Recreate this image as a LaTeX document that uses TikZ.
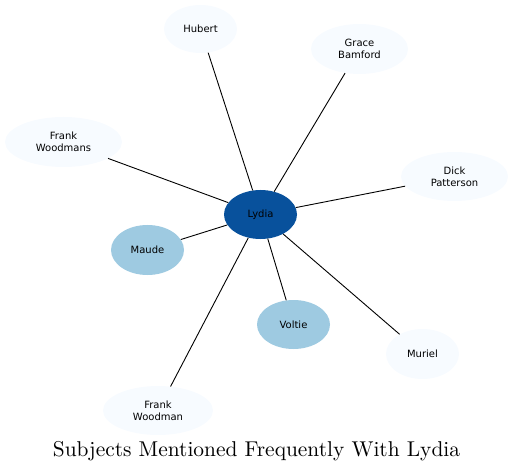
\documentclass[tikz,border=0pt]{standalone}
\usepackage{graphicx}
\usepackage{fontspec}
\setsansfont{DejaVu Sans}
\usetikzlibrary{shapes.geometric}
\definecolor{pale}{HTML}{F7FBFF}
\definecolor{mid}{HTML}{9ECAE1}
\definecolor{dark}{HTML}{08519C}
\tikzset{
  person/.style={ellipse, inner sep=0pt, align=center,
    font=\sffamily\fontsize{10bp}{12bp}\selectfont, text=black},
  minor/.style={person, fill=pale},
  near/.style={person, fill=mid},
  hub/.style={person, fill=dark},
  link/.style={draw=black, line width=0.9bp},
}
\begin{document}
\begin{tikzpicture}[x=1bp,y=-1bp]
\useasboundingbox (0,0) rectangle (513,471);
\node[hub, minimum width=73bp, minimum height=49bp] (lydia) at (260.5,214.5) {Lydia};
\node[minor, minimum width=73bp, minimum height=48bp] (hubert) at (200.5,29) {Hubert};
\node[minor, minimum width=97bp, minimum height=50bp] (grace) at (359.5,49) {Grace\\Bamford};
\node[minor, minimum width=117bp, minimum height=50bp] (fws) at (63.5,142) {Frank\\Woodmans};
\node[minor, minimum width=107bp, minimum height=49bp] (dick) at (454.5,176.5) {Dick\\Patterson};
\node[near, minimum width=73bp, minimum height=50bp] (maude) at (147.5,250) {Maude};
\node[near, minimum width=73bp, minimum height=49bp] (voltie) at (293.5,324.5) {Voltie};
\node[minor, minimum width=73bp, minimum height=50bp] (muriel) at (422.5,354) {Muriel};
\node[minor, minimum width=110bp, minimum height=49bp] (fw) at (158,410.5) {Frank\\Woodman};
\foreach \n in {hubert,grace,fws,dick,maude,voltie,muriel,fw}
  \draw[link] (lydia) -- (\n);
\node[inner sep=0pt, anchor=base] (title) at (256.5,456) {\scalebox{2.15}{\fontsize{10pt}{12pt}\selectfont Subjects Mentioned Frequently With Lydia}};
\end{tikzpicture}
\end{document}
